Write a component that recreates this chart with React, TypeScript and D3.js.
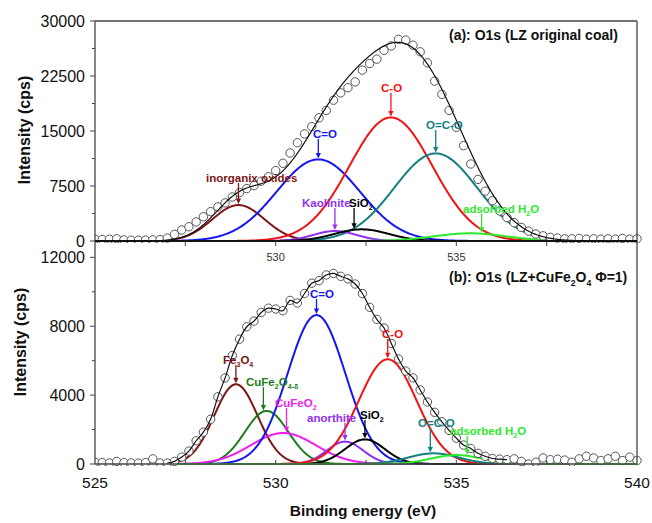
import React from 'react';
import * as d3 from 'd3';

// ---------- DATA ----------
const eStart = 525;
const eStep = 0.2;

// Panel (a) measured intensities (cps), 525.0 -> 540.0 eV, 0.2 eV step
const obsA = [
  250, 200, 250, 300, 150, 100, 100, 120, 150, 200,
  400, 900, 1500, 1950, 2600, 3300, 4000, 4650, 5200, 6000,
  6600, 7150, 7550, 8150, 8760, 9600, 10600, 12000, 13400, 14600,
  15600, 16800, 17800, 19200, 20200, 20900, 21700, 23300, 24200, 24800,
  26000, 26600, 27500, 27400, 26700, 25800, 24300, 21800, 20000, 17800,
  15500, 13000, 10500, 8400, 6800, 5500, 4100, 3200, 2500, 1850,
  1350, 950, 700, 500, 400, 300, 300, 350, 250, 300,
  250, 300, 250, 350, 250, 300,
];

// Panel (b) measured intensities (cps)
const obsB = [
  100, 80, 60, 150, 80, 60, 50, 80, 300, 60,
  50, 150, 400, 750, 1350, 1850, 2600, 3900, 5000, 6300,
  7250, 7970, 8300, 8800, 9050, 9000, 8900, 9500, 9350, 9900,
  10500, 10650, 10980, 11070, 10900, 10750, 10450, 9900, 9100, 8400,
  7900, 7000, 6100, 5400, 5000, 4300, 3600, 3000, 2450, 1950,
  1500, 1100, 900, 620, 450, 320, 280, 250, 300, 150,
  0, 100, 350, 250, 280, 230, 100, 300, 450, 350,
  200, 300, 450, 200, 400, 200,
];

// Fitted components, panel (a)
const compNamesA = ['inorganix oxides', 'C=O', 'C-O', 'O=C-O', 'Kaolinite', 'SiO2', 'adsorbed H2O'];
const compCentersA = [528.97, 531.18, 533.19, 534.43, 531.64, 532.38, 535.38];
const compHeightsA = [4900, 11130, 16850, 11940, 1360, 1590, 1050];
const compWidthsA = [0.72, 1.15, 1.15, 1.15, 0.6, 0.75, 1.0];

// Fitted components, panel (b)
const compNamesB = ['Fe3O4', 'CuFe2O4-δ', 'CuFeO2', 'C=O', 'anorthite', 'SiO2', 'C-O', 'O=C-O', 'adsorbed H2O'];
const compCentersB = [528.9, 529.75, 530.21, 531.13, 531.92, 532.47, 533.1, 534.37, 535.0];
const compHeightsB = [4630, 3080, 1800, 8650, 1300, 1430, 6080, 620, 520];
const compWidthsB = [0.6, 0.6, 0.9, 0.8, 0.5, 0.55, 0.8, 0.7, 0.7];

const yTicksA = [0, 7500, 15000, 22500, 30000];
const yMinorA = [3750, 11250, 18750, 26250];
const yTicksB = [0, 4000, 8000, 12000];
const yMinorB = [2000, 6000, 10000];
const xTicks = [525, 527.5, 530, 532.5, 535, 537.5, 540];
const xLabelsA = [530, 535];
const xLabelsB = [525, 530, 535, 540];

// ---------- STYLE / LAYOUT ----------
const colorsA = ['#7d1616', '#1515f0', '#f01414', '#118080', '#9030f0', '#000000', '#2ee82e'];
const colorsB = ['#7d1616', '#1c7c1c', '#f01cf0', '#1515f0', '#9030f0', '#000000', '#f01414', '#118080', '#2ee82e'];

type Seg = [string, boolean];
const labelPartsA: Seg[][] = [
  [['inorganix oxides', false]],
  [['C=O', false]],
  [['C-O', false]],
  [['O=C-O', false]],
  [['Kaolinite', false]],
  [['SiO', false], ['2', true]],
  [['adsorbed H', false], ['2', true], ['O', false]],
];
const labelLayoutA = [
  { tx: 206, ty: 182, ae: 528.97 },
  { tx: 313, ty: 138, ae: 531.18 },
  { tx: 381, ty: 92, ae: 533.19 },
  { tx: 426, ty: 129, ae: 534.43 },
  { tx: 302, ty: 207, ae: 531.64 },
  { tx: 349, ty: 207, ae: 532.17 },
  { tx: 463, ty: 213, ae: 535.7 },
];
const labelPartsB: Seg[][] = [
  [['Fe', false], ['3', true], ['O', false], ['4', true]],
  [['CuFe', false], ['2', true], ['O', false], ['4-δ', true]],
  [['CuFeO', false], ['2', true]],
  [['C=O', false]],
  [['anorthite', false]],
  [['SiO', false], ['2', true]],
  [['C-O', false]],
  [['O=C-O', false]],
  [['adsorbed H', false], ['2', true], ['O', false]],
];
const labelLayoutB = [
  { tx: 223, ty: 364, ae: 528.9 },
  { tx: 246, ty: 386, ae: 529.66 },
  { tx: 275, ty: 407, ae: 530.3 },
  { tx: 310, ty: 298, ae: 531.13 },
  { tx: 307, ty: 422, ae: 531.92 },
  { tx: 360, ty: 419, ae: 532.47 },
  { tx: 382, ty: 338, ae: 533.1 },
  { tx: 418, ty: 427, ae: 534.28 },
  { tx: 450, ty: 435, ae: 535.3 },
];

const FONT = '"Liberation Sans", Arial, sans-serif';
const X0 = 95, X1 = 637;
const A_TOP = 21, A_BOT = 241, B_TOP = 241, B_BOT = 464;

const x = d3.scaleLinear().domain([525, 540]).range([X0, X1]);
const yA = d3.scaleLinear().domain([0, 30000]).range([A_BOT, A_TOP]);
const yB = d3.scaleLinear().domain([0, 12950]).range([B_BOT, B_TOP]);

const gauss = (e: number, c: number, h: number, w: number) => h * Math.exp(-((e - c) ** 2) / (2 * w * w));

function renderSegs(segs: Seg[], size: number) {
  const out: React.ReactNode[] = [];
  let sub = false;
  segs.forEach(([t, isSub], i) => {
    let dy = 0;
    if (isSub && !sub) dy = size * 0.3;
    if (!isSub && sub) dy = -size * 0.3;
    sub = isSub;
    out.push(
      <tspan key={i} dy={dy} fontSize={isSub ? size * 0.62 : size}>{t}</tspan>
    );
  });
  return out;
}

function Panel(props: {
  y: d3.ScaleLinear<number, number>;
  obs: number[];
  centers: number[]; heights: number[]; widths: number[]; colors: string[];
  names: string[];
  parts: Seg[][]; layout: { tx: number; ty: number; ae: number }[];
  fitStart: number;
  envMode: 'sum' | 'data';
  envRange: [number, number];
  clipId: string; top: number; bot: number;
}) {
  const { y, obs, centers, heights, widths, colors, parts, layout, fitStart, envMode, envRange, clipId, top, bot } = props;
  const grid = d3.range(fitStart, 540.0001, 0.02);
  const line = d3.line<[number, number]>().x(d => x(d[0])).y(d => y(d[1]));
  const comps = centers.map((c, i) => grid.map(e => [e, gauss(e, c, heights[i], widths[i])] as [number, number]));
  let envPath = '';
  if (envMode === 'sum') {
    const g2 = d3.range(envRange[0], envRange[1] + 0.0001, 0.02);
    const env = g2.map(e => [e, centers.reduce((s, c, i) => s + gauss(e, c, heights[i], widths[i]), 0)] as [number, number]);
    envPath = line(env) || '';
  } else {
    const pts = obs.map((v, i) => [eStart + i * eStep, v] as [number, number])
      .filter(p => p[0] >= envRange[0] - 1e-6 && p[0] <= envRange[1] + 1e-6);
    envPath = d3.line<[number, number]>().x(d => x(d[0])).y(d => y(d[1])).curve(d3.curveCatmullRom)(pts) || '';
  }
  return (
    <g>
      <defs>
        <clipPath id={clipId}><rect x={X0} y={top - 6} width={X1 - X0 + 6} height={bot - top + 8} /></clipPath>
      </defs>
      <g clipPath={`url(#${clipId})`}>
        {comps.map((pts, i) => (
          <path key={i} d={line(pts) || ''} fill="none" stroke={colors[i]} strokeWidth={2} />
        ))}
        {obs.map((v, i) => (
          <circle key={i} cx={x(eStart + i * eStep)} cy={y(v)} r={4.2} fill="#fff" stroke="#555" strokeWidth={1} />
        ))}
        <path d={envPath} fill="none" stroke="#111" strokeWidth={1.2} />
      </g>
      {layout.map((L, i) => {
        const ax = x(L.ae);
        const tip = y(gauss(L.ae, centers[i], heights[i], widths[i])) - 1;
        return (
          <g key={i} fill={colors[i]}>
            <text x={L.tx} y={L.ty} fontFamily={FONT} fontWeight="bold" fontSize={11.5}>
              {renderSegs(parts[i], 11.5)}
            </text>
            <line x1={ax} x2={ax} y1={L.ty + 1} y2={tip - 4} stroke={colors[i]} strokeWidth={1.3} />
            <path d={`M${ax - 2.6},${tip - 5.5}L${ax + 2.6},${tip - 5.5}L${ax},${tip}Z`} />
          </g>
        );
      })}
    </g>
  );
}

export default function App() {
  const axisColor = '#444';
  return (
    <svg width={652} height={523} style={{ position: 'absolute', left: 0, top: 0, background: '#fff' }}
      fontFamily={FONT}>
      <rect x={0} y={0} width={652} height={523} fill="#fff" />
      <Panel y={yA} obs={obsA} centers={compCentersA} heights={compHeightsA} widths={compWidthsA}
        colors={colorsA} names={compNamesA} parts={labelPartsA} layout={labelLayoutA}
        fitStart={526.8} envMode="sum" envRange={[526.8, 540]} clipId="clipA" top={A_TOP} bot={A_BOT} />
      <Panel y={yB} obs={obsB} centers={compCentersB} heights={compHeightsB} widths={compWidthsB}
        colors={colorsB} names={compNamesB} parts={labelPartsB} layout={labelLayoutB}
        fitStart={527.3} envMode="data" envRange={[527.0, 536.4]} clipId="clipB" top={B_TOP} bot={B_BOT} />

      {/* frame */}
      <g stroke={axisColor} strokeWidth={1.3} fill="none">
        <line x1={X0} x2={X0} y1={A_TOP} y2={B_BOT} />
        <line x1={X1} x2={X1} y1={A_TOP} y2={B_BOT} />
        <line x1={X0} x2={X1} y1={A_TOP} y2={A_TOP} />
        <line x1={X0} x2={X1} y1={A_BOT} y2={A_BOT} stroke="#111" strokeWidth={1.8} />
        <line x1={X0} x2={X1} y1={B_BOT} y2={B_BOT} />
      </g>

      {/* ticks */}
      <g stroke={axisColor} strokeWidth={1}>
        {yTicksA.map(t => <line key={t} x1={X0 - 5} x2={X0} y1={yA(t)} y2={yA(t)} />)}
        {yMinorA.map(t => <line key={t} x1={X0 - 3} x2={X0} y1={yA(t)} y2={yA(t)} />)}
        {yTicksB.map(t => <line key={'b' + t} x1={X0 - 5} x2={X0} y1={yB(t)} y2={yB(t)} />)}
        {yMinorB.map(t => <line key={'bm' + t} x1={X0 - 3} x2={X0} y1={yB(t)} y2={yB(t)} />)}
        {xTicks.slice(1, -1).map(t => <line key={'xa' + t} x1={x(t)} x2={x(t)} y1={A_BOT} y2={A_BOT + 5} />)}
        {xTicks.slice(1, -1).map(t => <line key={'xb' + t} x1={x(t)} x2={x(t)} y1={B_BOT} y2={B_BOT - 4} />)}
      </g>
      <g fontSize={16} textAnchor="end" fill="#111">
        {yTicksA.map(t => <text key={t} x={85} y={yA(t) + 5.5}>{t}</text>)}
        {yTicksB.map(t => <text key={'b' + t} x={85} y={yB(t) + 5.5}>{t}</text>)}
      </g>
      <g fontSize={11} textAnchor="middle" fill="#333">
        {xLabelsA.map(t => <text key={t} x={x(t)} y={261}>{t}</text>)}
      </g>
      <g fontSize={15.5} textAnchor="middle" fill="#111">
        {xLabelsB.map(t => <text key={t} x={x(t)} y={487.5}>{t}</text>)}
      </g>

      {/* axis titles */}
      <text transform="translate(30,130) rotate(-90)" textAnchor="middle" fontWeight="bold" fontSize={16} fill="#111">Intensity (cps)</text>
      <text transform="translate(26,342) rotate(-90)" textAnchor="middle" fontWeight="bold" fontSize={16} fill="#111">Intensity (cps)</text>
      <text x={363} y={516} textAnchor="middle" fontWeight="bold" fontSize={15.5} fill="#111">Binding energy (eV)</text>

      {/* panel titles */}
      <text x={449} y={39.5} fontWeight="bold" fontSize={14} fill="#111">(a): O1s (LZ original coal)</text>
      <text x={449} y={282} fontWeight="bold" fontSize={14} fill="#111">
        {renderSegs([['(b): O1s (LZ+CuFe', false], ['2', true], ['O', false], ['4', true], [' Φ=1)', false]], 14)}
      </text>
    </svg>
  );
}
